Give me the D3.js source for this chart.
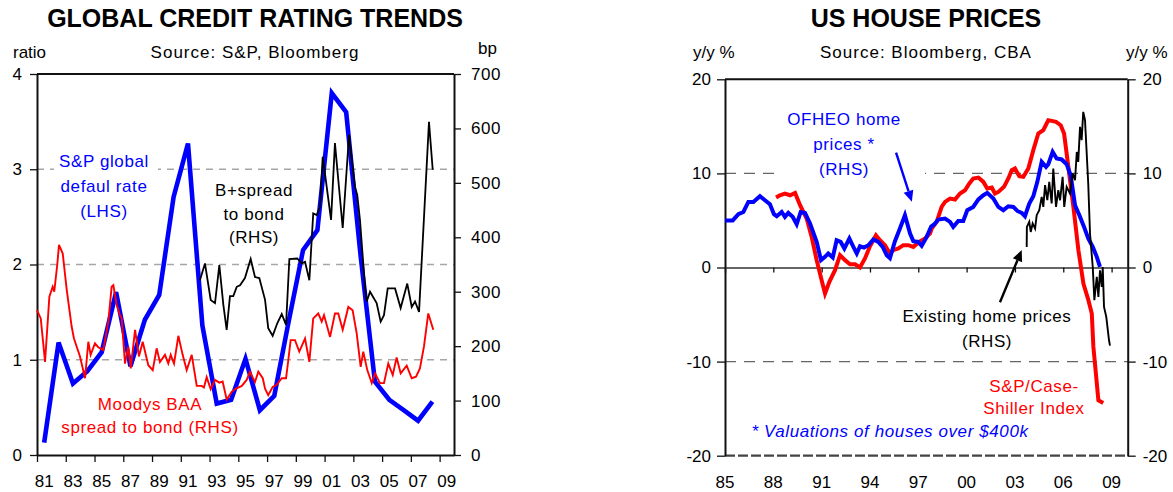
<!DOCTYPE html>
<html>
<head>
<meta charset="utf-8">
<script src="https://cdn.jsdelivr.net/npm/d3@7/dist/d3.min.js"></script>
<style>
  html, body { margin: 0; padding: 0; background: #fff; }
  svg { display: block; font-family: "Liberation Sans", Arial, sans-serif; }
</style>
</head>
<body>
<svg id="chart" width="1173" height="492"></svg>
<script>
// ---------------- Global credit rating trends ----------------
// S&P global default rate, ratio (LHS) – annual, plotted mid-year
const spDefaultRate = [
  [1981.5, 0.13], [1982.5, 1.18], [1983.5, 0.75], [1984.5, 0.88], [1985.5, 1.08],
  [1986.5, 1.71], [1987.5, 0.93], [1988.5, 1.42], [1989.5, 1.68], [1990.5, 2.71],
  [1991.5, 3.27], [1992.5, 1.36], [1993.5, 0.54], [1994.5, 0.58], [1995.5, 1.01],
  [1996.5, 0.47], [1997.5, 0.62], [1998.5, 1.40], [1999.5, 2.15], [2000.5, 2.36],
  [2001.5, 3.80], [2002.5, 3.60], [2003.5, 2.10], [2004.5, 0.77], [2005.5, 0.58],
  [2006.5, 0.47], [2007.5, 0.36], [2008.5, 0.56]
];

// Moodys BAA spread to bond, bp (RHS)
const moodysBaaSpread = [
  [1981.0, 266], [1981.26, 251], [1981.56, 171], [1981.86, 291], [1982.09, 309],
  [1982.2, 300], [1982.41, 350], [1982.53, 386], [1982.79, 370], [1983.07, 303],
  [1983.41, 236], [1983.57, 214], [1983.99, 181], [1984.34, 141], [1984.57, 208],
  [1984.73, 184], [1985.03, 205], [1985.26, 198], [1985.61, 193], [1985.96, 245],
  [1986.19, 309], [1986.31, 312], [1986.54, 276], [1986.77, 257], [1986.89, 251],
  [1987.12, 168], [1987.35, 199], [1987.52, 159], [1987.82, 230], [1988.09, 181],
  [1988.35, 208], [1988.74, 165], [1989.05, 156], [1989.32, 196], [1989.55, 171],
  [1989.9, 184], [1990.13, 168], [1990.3, 184], [1990.53, 168], [1990.83, 219],
  [1991.13, 184], [1991.41, 156], [1991.76, 184], [1992.11, 127], [1992.45, 127],
  [1992.61, 124], [1992.8, 143], [1993.08, 121], [1993.38, 138], [1993.68, 133],
  [1993.91, 135], [1994.19, 102], [1994.54, 116], [1994.84, 122], [1995.24, 127],
  [1995.58, 138], [1995.81, 153], [1996.16, 134], [1996.39, 153], [1996.7, 141],
  [1996.86, 122], [1997.08, 110], [1997.39, 125], [1997.67, 129], [1998.02, 141],
  [1998.32, 141], [1998.48, 175], [1998.64, 211], [1998.94, 211], [1999.24, 190],
  [1999.64, 214], [1999.94, 171], [2000.21, 251], [2000.56, 260], [2000.8, 245],
  [2000.96, 257], [2001.38, 217], [2001.72, 260], [2001.95, 260], [2002.26, 230],
  [2002.65, 272], [2002.95, 266], [2003.23, 224], [2003.51, 162], [2003.69, 190],
  [2003.97, 156], [2004.28, 132], [2004.51, 150], [2004.85, 132], [2005.13, 132],
  [2005.43, 168], [2005.74, 147], [2006.01, 179], [2006.29, 150], [2006.71, 164],
  [2007.06, 141], [2007.36, 144], [2007.63, 159], [2007.91, 199], [2008.21, 260],
  [2008.56, 230]
];

// B+ spread to bond, bp (RHS)
const bPlusSpread = [
  [1992.33, 321], [1992.68, 352], [1993.08, 285], [1993.38, 279], [1993.68, 349],
  [1993.96, 276], [1994.19, 230], [1994.42, 292], [1994.65, 292], [1994.89, 309],
  [1995.12, 312], [1995.46, 325], [1995.86, 360], [1996.16, 327], [1996.46, 325],
  [1996.86, 285], [1997.08, 233], [1997.39, 219], [1997.71, 242], [1998.02, 259],
  [1998.32, 239], [1998.55, 360], [1999.1, 361], [1999.41, 352], [1999.64, 355],
  [1999.94, 321], [2000.21, 444], [2000.45, 441], [2000.68, 456], [2000.87, 548],
  [2001.45, 432], [2001.72, 573], [2002.26, 417], [2002.7, 588], [2003.11, 493],
  [2003.27, 478], [2003.46, 432], [2003.81, 309], [2003.93, 282], [2004.16, 300],
  [2004.62, 279], [2004.9, 245], [2005.13, 257], [2005.39, 306], [2005.9, 306],
  [2006.29, 270], [2006.75, 315], [2007.06, 272], [2007.29, 282], [2007.57, 263],
  [2008.26, 612], [2008.52, 524]
];

const ratioTicks = [0, 1, 2, 3, 4];
const bpTicks = [0, 100, 200, 300, 400, 500, 600, 700];
const creditYearTicks = [1981, 1983, 1985, 1987, 1989, 1991, 1993, 1995, 1997, 1999, 2001, 2003, 2005, 2007, 2009];

// ---------------- US house prices ----------------
// OFHEO home prices, y/y % (RHS)
const ofheoPrices = [
  [1985.0, 5.0], [1985.48, 5.0], [1985.83, 5.66], [1986.14, 5.9], [1986.45, 6.97],
  [1986.76, 6.97], [1987.17, 7.58], [1987.48, 7.15], [1987.79, 6.73], [1988.04, 5.66],
  [1988.21, 5.45], [1988.52, 5.9], [1988.72, 5.38], [1988.93, 5.8], [1989.2, 5.38],
  [1989.45, 4.6], [1989.7, 5.9], [1989.97, 5.8], [1990.28, 4.68], [1990.69, 2.72],
  [1990.96, 0.78], [1991.21, 1.13], [1991.41, 1.49], [1991.69, 1.06], [1991.93, 2.9],
  [1992.18, 2.72], [1992.41, 2.02], [1992.72, 3.08], [1992.97, 2.19], [1993.18, 1.49],
  [1993.38, 2.26], [1993.63, 2.12], [1993.9, 2.37], [1994.21, 2.98], [1994.52, 2.72],
  [1994.79, 2.19], [1995.04, 1.31], [1995.24, 1.0], [1995.55, 2.8], [1995.86, 4.14],
  [1996.17, 5.56], [1996.49, 3.6], [1996.69, 2.8], [1997.0, 2.72], [1997.21, 2.3],
  [1997.52, 3.25], [1997.8, 4.35], [1998.0, 4.6], [1998.24, 5.1], [1998.66, 5.2],
  [1998.97, 4.85], [1999.17, 4.31], [1999.48, 4.95], [1999.79, 4.95], [2000.04, 6.09],
  [2000.41, 6.44], [2000.73, 7.23], [2001.04, 7.68], [2001.28, 7.93], [2001.66, 7.33],
  [2001.97, 6.44], [2002.28, 6.09], [2002.59, 6.51], [2002.9, 6.44], [2003.15, 6.01],
  [2003.42, 5.8], [2003.62, 5.45], [2003.89, 6.8], [2004.14, 7.58], [2004.39, 9.1],
  [2004.66, 11.22], [2004.93, 10.69], [2005.07, 10.98], [2005.34, 12.28], [2005.59, 11.58],
  [2005.9, 11.48], [2006.21, 10.98], [2006.46, 9.81], [2006.73, 6.62], [2007.0, 5.56],
  [2007.29, 4.31], [2007.55, 3.08], [2007.83, 2.19], [2008.08, 1.13], [2008.28, 0.06]
];

// S&P/Case-Shiller index, y/y %
const caseShiller = [
  [1988.17, 7.44], [1988.41, 7.68], [1988.72, 7.86], [1989.04, 7.68], [1989.35, 7.93],
  [1989.66, 6.62], [1990.07, 5.2], [1990.38, 3.25], [1990.69, 0.78], [1991.0, -1.35],
  [1991.21, -2.76], [1991.48, -1.53], [1991.83, -0.29], [1992.14, 1.31], [1992.45, 0.78],
  [1992.76, 0.35], [1993.07, 0.35], [1993.38, 0.0], [1993.69, 0.96], [1994.0, 2.26],
  [1994.37, 3.43], [1994.62, 2.9], [1994.93, 2.37], [1995.24, 1.49], [1995.45, 1.84],
  [1995.76, 2.02], [1996.07, 2.37], [1996.38, 2.37], [1996.69, 2.19], [1997.05, 2.72],
  [1997.42, 3.08], [1997.73, 3.61], [1997.83, 4.14], [1998.14, 4.85], [1998.45, 6.44],
  [1998.66, 6.97], [1998.97, 7.33], [1999.28, 7.23], [1999.59, 7.86], [1999.9, 8.21],
  [2000.17, 8.93], [2000.41, 9.46], [2000.73, 9.56], [2001.04, 9.1], [2001.28, 8.4],
  [2001.56, 8.5], [2001.76, 7.86], [2001.97, 8.03], [2002.32, 8.57], [2002.59, 9.46],
  [2002.8, 10.34], [2003.0, 10.52], [2003.27, 9.7], [2003.52, 9.63], [2003.83, 10.52],
  [2004.14, 12.47], [2004.45, 14.24], [2004.76, 14.59], [2005.07, 15.65], [2005.28, 15.58],
  [2005.55, 15.47], [2005.84, 15.12], [2006.05, 14.24], [2006.21, 12.11], [2006.42, 9.28],
  [2006.63, 6.44], [2006.94, 1.84], [2007.25, -1.7], [2007.56, -3.47], [2007.77, -4.89],
  [2007.87, -8.44], [2008.18, -14.1], [2008.48, -14.39]
];

// Existing home prices, y/y % (RHS)
const existingHomePrices = [
  [2003.73, 2.19], [2003.74, 4.31], [2003.89, 4.85], [2003.98, 3.78], [2004.1, 4.68],
  [2004.25, 4.14], [2004.35, 5.56], [2004.51, 6.09], [2004.66, 7.5], [2004.76, 6.44],
  [2004.87, 8.75], [2005.01, 7.15], [2005.13, 9.1], [2005.28, 6.8], [2005.38, 10.52],
  [2005.55, 6.44], [2005.69, 8.21], [2005.8, 7.15], [2005.96, 9.63], [2006.06, 6.44],
  [2006.21, 8.57], [2006.42, 7.86], [2006.59, 9.99], [2006.73, 9.28], [2006.84, 12.28],
  [2006.93, 11.22], [2007.04, 14.94], [2007.14, 13.53], [2007.24, 16.54], [2007.35, 15.65],
  [2007.55, 8.93], [2007.66, 3.61], [2007.83, 0.06], [2007.93, -3.47], [2008.08, -1.0],
  [2008.18, -3.12], [2008.28, -0.29], [2008.39, -2.06], [2008.45, 0.06], [2008.53, -4.19],
  [2008.67, -5.25], [2008.84, -7.73], [2008.9, -8.3]
];

const pctTicks = [-20, -10, 0, 10, 20];
const houseYearTicks = [1985, 1988, 1991, 1994, 1997, 2000, 2003, 2006, 2009];

// ---------------- drawing ----------------
const svg = d3.select("#chart");
const FONT = 17;
const yy = d => String(d % 100).padStart(2, "0");
const plain = d => String(d);   // keep an ASCII hyphen for negatives

function styleAxis(g, sw) {
  g.select(".domain").attr("stroke", "#111").attr("stroke-width", sw);
  g.selectAll(".tick line").attr("stroke", "#111").attr("stroke-width", 1.3);
  g.selectAll(".tick text").attr("font-size", FONT).attr("fill", "#000")
    .attr("font-family", '"Liberation Sans", Arial, sans-serif');
}

// ===== Left panel =====
{
  const x = d3.scaleLinear().domain([1981, 2010]).range([37, 454]);
  const yL = d3.scaleLinear().domain([0, 4]).range([455, 74]);
  const yR = d3.scaleLinear().domain([0, 700]).range([455, 74]);
  const g = svg.append("g");

  // titles
  g.append("text").attr("x", 255).attr("y", 27).attr("text-anchor", "middle")
    .attr("font-size", 25).attr("font-weight", "bold").text("GLOBAL CREDIT RATING TRENDS");
  g.append("text").attr("x", 255).attr("y", 58).attr("text-anchor", "middle")
    .attr("font-size", FONT).attr("letter-spacing", 1).text("Source: S&P, Bloomberg");
  g.append("text").attr("x", 13).attr("y", 58).attr("font-size", FONT).text("ratio");
  g.append("text").attr("x", 478).attr("y", 54).attr("font-size", FONT).text("bp");

  // dashed gridlines
  g.selectAll("line.grid").data([1, 2, 3]).join("line").attr("class", "grid")
    .attr("x1", x.range()[0]).attr("x2", x.range()[1])
    .attr("y1", d => yL(d)).attr("y2", d => yL(d))
    .attr("stroke", "#a6a6a6").attr("stroke-width", 1.3).attr("stroke-dasharray", "7,6");

  // white box behind the default-rate label
  g.append("rect").attr("x", 54).attr("y", 148).attr("width", 104).attr("height", 74)
    .attr("fill", "#fff");

  // frame top
  g.append("line").attr("x1", x.range()[0]).attr("x2", x.range()[1])
    .attr("y1", yL(4)).attr("y2", yL(4)).attr("stroke", "#111").attr("stroke-width", 2);

  // axes
  const axL = g.append("g").attr("transform", `translate(${x.range()[0]},0)`)
    .call(d3.axisLeft(yL).tickValues(ratioTicks).tickFormat(plain)
      .tickSize(7).tickSizeOuter(0).tickPadding(8));
  styleAxis(axL, 2);
  const axR = g.append("g").attr("transform", `translate(${x.range()[1]},0)`)
    .call(d3.axisRight(yR).tickValues(bpTicks).tickFormat(plain)
      .tickSize(7).tickSizeOuter(0).tickPadding(10));
  styleAxis(axR, 2);
  axR.selectAll(".tick text").attr("letter-spacing", 0.6);
  const axB = g.append("g").attr("transform", `translate(0,${yL(0)})`)
    .call(d3.axisBottom(x).tickValues(creditYearTicks).tickSize(7).tickSizeOuter(0).tickFormat(""));
  styleAxis(axB, 2);
  g.selectAll("text.xlab").data(creditYearTicks).join("text").attr("class", "xlab")
    .attr("x", d => x(d + 0.5)).attr("y", 487).attr("text-anchor", "middle")
    .attr("font-size", FONT).text(yy);

  // series
  const lineL = d3.line().x(d => x(d[0])).y(d => yL(d[1]));
  const lineR = d3.line().x(d => x(d[0])).y(d => yR(d[1]));
  g.append("path").datum(spDefaultRate).attr("d", lineL).attr("fill", "none")
    .attr("stroke", "#0000ff").attr("stroke-width", 4.6).attr("stroke-linejoin", "miter");
  g.append("path").datum(moodysBaaSpread).attr("d", lineR).attr("fill", "none")
    .attr("stroke", "#ff0000").attr("stroke-width", 1.9);
  g.append("path").datum(bPlusSpread).attr("d", lineR).attr("fill", "none")
    .attr("stroke", "#000").attr("stroke-width", 1.8);

  // annotations
  const note = (lines, cx, y0, dy, color) => {
    lines.forEach((t, i) => g.append("text").attr("x", cx).attr("y", y0 + i * dy)
      .attr("text-anchor", "middle").attr("font-size", FONT).attr("letter-spacing", 0.6)
      .attr("fill", color).text(t));
  };
  note(["S&P global", "defaul rate", "(LHS)"], 104, 167, 25, "#0000ff");
  note(["B+spread", "to bond", "(RHS)"], 254, 196, 23.5, "#000");
  note(["Moodys BAA", "spread to bond (RHS)"], 150, 410, 23, "#ff0000");
}

// ===== Right panel =====
{
  const x = d3.scaleLinear().domain([1985, 2010]).range([725, 1127.7]);
  const y = d3.scaleLinear().domain([-20, 20]).range([455.7, 79.3]);
  const g = svg.append("g");

  g.append("text").attr("x", 926).attr("y", 27).attr("text-anchor", "middle")
    .attr("font-size", 25).attr("font-weight", "bold").text("US HOUSE PRICES");
  g.append("text").attr("x", 926).attr("y", 58).attr("text-anchor", "middle")
    .attr("font-size", FONT).attr("letter-spacing", 1).text("Source: Bloomberg, CBA");
  g.append("text").attr("x", 693).attr("y", 58).attr("font-size", FONT).text("y/y %");
  g.append("text").attr("x", 1126).attr("y", 58).attr("font-size", FONT).text("y/y %");

  // dashed gridlines
  g.selectAll("line.grid").data([10, -10]).join("line").attr("class", "grid")
    .attr("x1", x.range()[0]).attr("x2", x.range()[1])
    .attr("y1", d => y(d)).attr("y2", d => y(d))
    .attr("stroke", "#666").attr("stroke-width", 1.3).attr("stroke-dasharray", "11,8");
  // bottom edge
  g.append("line").attr("x1", x.range()[0]).attr("x2", x.range()[1])
    .attr("y1", y(-20)).attr("y2", y(-20))
    .attr("stroke", "#444").attr("stroke-width", 2.2).attr("stroke-dasharray", "10,3");
  // top edge
  g.append("line").attr("x1", x.range()[0]).attr("x2", x.range()[1])
    .attr("y1", y(20)).attr("y2", y(20)).attr("stroke", "#111").attr("stroke-width", 2);

  // white box behind the OFHEO label
  g.append("rect").attr("x", 775).attr("y", 103).attr("width", 150).attr("height", 78)
    .attr("fill", "#fff");

  const axL = g.append("g").attr("transform", `translate(${x.range()[0]},0)`)
    .call(d3.axisLeft(y).tickValues(pctTicks).tickFormat(plain)
      .tickSize(8).tickSizeOuter(0).tickPadding(6));
  styleAxis(axL, 2);
  const axR = g.append("g").attr("transform", `translate(${x.range()[1]},0)`)
    .call(d3.axisRight(y).tickValues(pctTicks).tickFormat(plain)
      .tickSize(8).tickSizeOuter(0).tickPadding(7));
  styleAxis(axR, 2);
  const axB = g.append("g").attr("transform", `translate(0,${y(0)})`)
    .call(d3.axisBottom(x).tickValues(houseYearTicks).tickSize(5).tickSizeOuter(0).tickFormat(""));
  styleAxis(axB, 1.5);
  axB.select(".domain").attr("stroke", "#333");
  g.selectAll("text.xlab").data(houseYearTicks).join("text").attr("class", "xlab")
    .attr("x", d => x(d)).attr("y", 488).attr("text-anchor", "middle")
    .attr("font-size", FONT).text(yy);

  const line = d3.line().x(d => x(d[0])).y(d => y(d[1]));
  g.append("path").datum(caseShiller).attr("d", line).attr("fill", "none")
    .attr("stroke", "#ff0000").attr("stroke-width", 4);
  g.append("path").datum(ofheoPrices).attr("d", line).attr("fill", "none")
    .attr("stroke", "#0000ff").attr("stroke-width", 4);
  g.append("path").datum(existingHomePrices).attr("d", line).attr("fill", "none")
    .attr("stroke", "#000").attr("stroke-width", 1.9);

  // arrows
  const arrow = (from, to, color) => {
    const x1 = x(from[0]), y1 = y(from[1]), x2 = x(to[0]), y2 = y(to[1]);
    const a = Math.atan2(y2 - y1, x2 - x1), L = 11, W = 5;
    const bx = x2 - L * Math.cos(a), by = y2 - L * Math.sin(a);
    g.append("line").attr("x1", x1).attr("y1", y1).attr("x2", bx).attr("y2", by)
      .attr("stroke", color).attr("stroke-width", 2.4);
    g.append("path").attr("fill", color).attr("d",
      `M${x2},${y2}L${bx + W * Math.sin(a)},${by - W * Math.cos(a)}L${bx - W * Math.sin(a)},${by + W * Math.cos(a)}Z`);
  };
  arrow([1995.62, 12.2], [1996.6, 7.0], "#0000ff");
  arrow([2002.07, -3.7], [2003.42, 1.85], "#000");

  const note = (lines, cx, y0, dy, color, italic) => {
    lines.forEach((t, i) => g.append("text").attr("x", cx).attr("y", y0 + i * dy)
      .attr("text-anchor", "middle").attr("font-size", FONT).attr("letter-spacing", 0.6)
      .attr("font-style", italic ? "italic" : null)
      .attr("fill", color).text(t));
  };
  note(["OFHEO home", "prices *", "(RHS)"], 844, 125, 25, "#0000ff");
  note(["Existing home prices", "(RHS)"], 987, 322, 25, "#000");
  note(["S&P/Case-", "Shiller Index"], 1034, 392, 22, "#ff0000");
  note(["* Valuations of houses over $400k"], 890, 437, 0, "#0000ff", true);
}
</script>
</body>
</html>
